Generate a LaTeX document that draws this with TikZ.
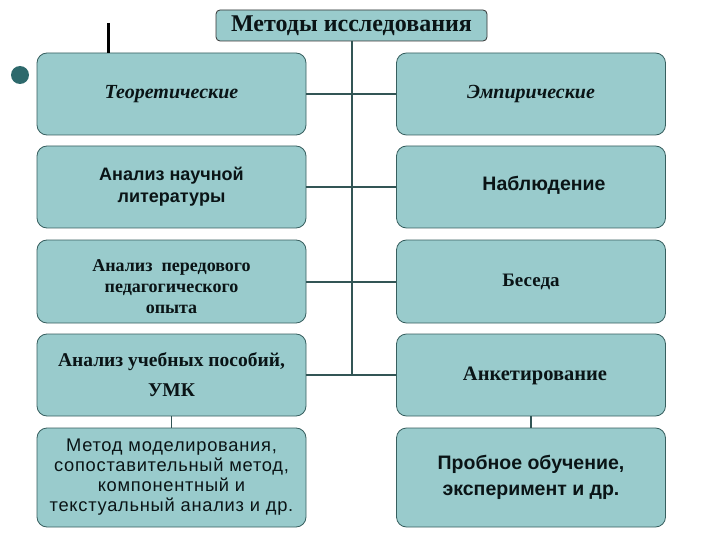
\documentclass[tikz,border=0pt]{standalone}
\usepackage{fontspec}
\setmainfont{Liberation Serif}
\newfontfamily\sansf{Liberation Sans}
\newfontfamily\sansls[LetterSpace=4]{Liberation Sans}
\definecolor{boxfill}{RGB}{153,203,204}
\definecolor{boxdraw}{RGB}{55,95,95}
\definecolor{linec}{RGB}{50,85,85}
\definecolor{bulletc}{RGB}{45,105,108}
\definecolor{txt}{RGB}{10,20,22}
\begin{document}
\begin{tikzpicture}[x=1pt,y=-1pt,
  mbox/.style={draw=boxdraw,line width=0.8pt,fill=boxfill,rounded corners=10pt,
    minimum width=269pt,align=center,text=txt,inner sep=0pt},
  conn/.style={draw=linec,line width=2pt}]
\useasboundingbox (0,0) rectangle (720,540);
\fill[white] (0,0) rectangle (720,540);
% title
\node[mbox,minimum width=271pt,minimum height=31pt,rounded corners=4pt,draw=black!80,
  font=\bfseries\fontsize{24}{26}\selectfont] (title) at (351.5,25.5) {Методы исследования};
% left column
\node[mbox,minimum height=82pt,font=\bfseries\itshape\fontsize{20}{22}\selectfont] (l1) at (171.5,94) {Теоретические};
\node[mbox,minimum height=82pt,font=\sansf\bfseries\fontsize{18}{22}\selectfont] (l2) at (171.5,187) {Анализ научной\\литературы};
\node[mbox,minimum height=83pt,font=\bfseries\fontsize{18}{21}\selectfont] (l3) at (171.5,281.5) {\raisebox{-5pt}[\height][\depth]{\parbox{260pt}{\centering Анализ\ \ передового\\педагогического\\опыта}}};
\node[mbox,minimum height=82pt,font=\bfseries\fontsize{19.5}{30}\selectfont] (l4) at (171.5,375) {Анализ учебных пособий,\\УМК};
\node[mbox,minimum height=99pt,font=\sansls\fontsize{18.3}{20}\selectfont] (l5) at (171.5,477.5) {Метод моделирования,\\сопоставительный метод,\\компонентный и\\текстуальный анализ и др.};
% right column
\node[mbox,minimum height=82pt,font=\bfseries\itshape\fontsize{20}{22}\selectfont] (r1) at (531,94) {Эмпирические};
\node[mbox,minimum height=82pt,font=\sansf\bfseries\fontsize{19.5}{22}\selectfont] (r2) at (531,187) {\raisebox{2pt}[\height][\depth]{\hspace*{26pt}Наблюдение}};
\node[mbox,minimum height=83pt,font=\bfseries\fontsize{19}{22}\selectfont] (r3) at (531,281.5) {Беседа};
\node[mbox,minimum height=82pt,font=\bfseries\fontsize{20.5}{22}\selectfont] (r4) at (531,375) {\raisebox{-1pt}[\height][\depth]{\hspace*{8pt}Анкетирование}};
\node[mbox,minimum height=99pt,font=\sansf\bfseries\fontsize{19.5}{26}\selectfont] (r5) at (531,477.5) {Пробное обучение,\\ эксперимент и др.};
% connectors
\draw[conn] (title.south) -- (title.south |- l4.east);
\draw[conn] (l1.east) -- (r1.west);
\draw[conn] (l2.east) -- (r2.west);
\draw[conn] (l3.east) -- (r3.west);
\draw[conn] (l4.east) -- (r4.west);
\draw[conn,line width=1.2pt] (l4.south) -- (l5.north);
\draw[conn,line width=1.2pt] (r4.south) -- (r5.north);
% decorations
\coordinate (mk) at (108,23);
\draw[black,line width=3pt] (mk) -- (mk |- l1.north);
\node[circle,fill=bulletc,minimum size=18pt,inner sep=0pt] (bul) at (20,75) {};
\end{tikzpicture}
\end{document}
